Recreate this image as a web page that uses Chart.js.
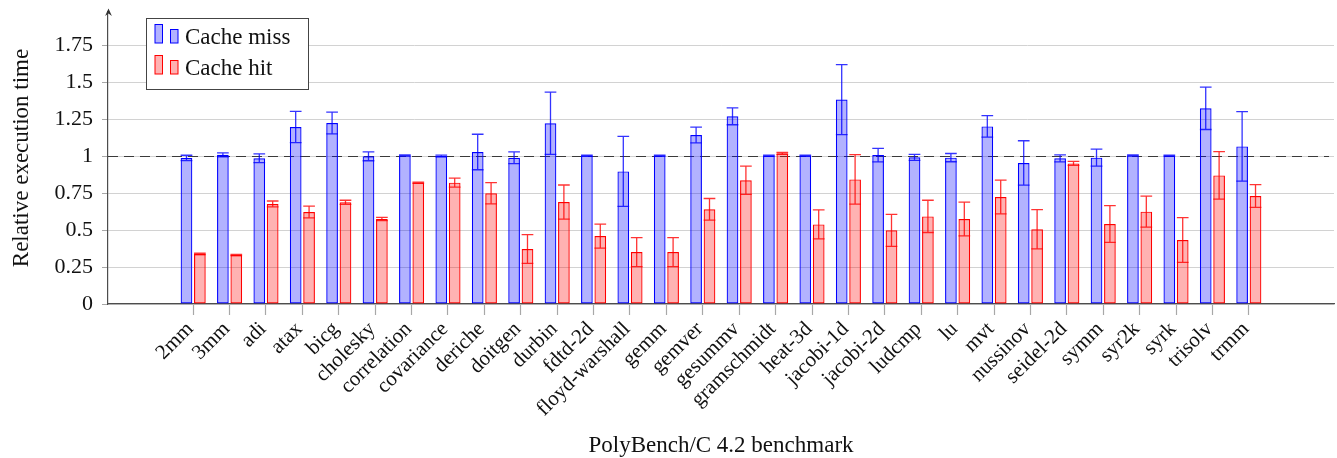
<!DOCTYPE html>
<html>
<head>
<meta charset="utf-8">
<script src="https://cdn.jsdelivr.net/npm/chart.js@4/dist/chart.umd.min.js"></script>
<style>
  html, body { margin: 0; padding: 0; background: #fff; }
  canvas { display: block; }
</style>
</head>
<body>
<canvas id="benchchart" width="1337" height="458"></canvas>
<script>
// PolyBench/C 4.2 benchmarks, relative execution time (mean and error)
var benchmarks = ['2mm', '3mm', 'adi', 'atax', 'bicg', 'cholesky', 'correlation', 'covariance',
  'deriche', 'doitgen', 'durbin', 'fdtd-2d', 'floyd-warshall', 'gemm', 'gemver', 'gesummv',
  'gramschmidt', 'heat-3d', 'jacobi-1d', 'jacobi-2d', 'ludcmp', 'lu', 'mvt', 'nussinov',
  'seidel-2d', 'symm', 'syr2k', 'syrk', 'trisolv', 'trmm'];

var missMean = [0.987, 1.008, 0.985, 1.196, 1.223, 0.998, 1.004, 1.0, 1.027, 0.988,
  1.221, 1.003, 0.896, 1.003, 1.142, 1.268, 1.002, 1.003, 1.381, 1.006,
  0.991, 0.989, 1.2, 0.953, 0.984, 0.989, 1.004, 1.003, 1.322, 1.065];
var missErr = [0.018, 0.013, 0.03, 0.105, 0.074, 0.03, 0.003, 0.006, 0.12, 0.04,
  0.21, 0.003, 0.237, 0.003, 0.053, 0.057, 0.003, 0.003, 0.236, 0.046,
  0.02, 0.028, 0.073, 0.15, 0.024, 0.057, 0.003, 0.003, 0.143, 0.235];

var hitMean = [0.338, 0.331, 0.676, 0.622, 0.687, 0.574, 0.82, 0.82, 0.748, 0.372,
  0.689, 0.459, 0.351, 0.351, 0.64, 0.836, 1.018, 0.538, 0.842, 0.498,
  0.592, 0.574, 0.723, 0.505, 0.95, 0.541, 0.624, 0.432, 0.869, 0.73];
var hitErr = [0.005, 0.004, 0.02, 0.04, 0.014, 0.011, 0.004, 0.03, 0.072, 0.097,
  0.115, 0.081, 0.098, 0.098, 0.073, 0.095, 0.007, 0.098, 0.167, 0.108,
  0.109, 0.114, 0.114, 0.133, 0.014, 0.124, 0.105, 0.151, 0.16, 0.077];

var yTicks = [0, 0.25, 0.5, 0.75, 1, 1.25, 1.5, 1.75];
var seriesNames = ['Cache miss', 'Cache hit'];

var FONT = '"Liberation Serif", "DejaVu Serif", serif';

var toPoints = function(arr) {
  return arr.map(function(v, i) { return {x: i, y: v}; });
};

//error bars, dashed baseline, axis arrow and legend
var extras = {
  id: 'extras',
  beforeDatasetsDraw: function(chart) {
    var ctx = chart.ctx, a = chart.chartArea;
    var y1 = chart.scales.y.getPixelForValue(1);
    ctx.save();
    ctx.strokeStyle = '#3a3a3a';
    ctx.lineWidth = 1.1;
    ctx.setLineDash([10, 6]);
    ctx.beginPath();
    ctx.moveTo(a.left, Math.round(y1) + 0.5);
    ctx.lineTo(a.right - 5, Math.round(y1) + 0.5);
    ctx.stroke();
    ctx.restore();
  },
  afterDatasetsDraw: function(chart) {
    var ctx = chart.ctx, ys = chart.scales.y;
    var errs = [missErr, hitErr];
    var means = [missMean, hitMean];
    var cols = ['rgba(0,0,255,0.8)', 'rgba(255,0,0,0.8)'];
    ctx.save();
    ctx.lineWidth = 1.3;
    for (var d = 0; d < 2; d++) {
      var meta = chart.getDatasetMeta(d);
      ctx.strokeStyle = cols[d];
      meta.data.forEach(function(bar, i) {
        var top = ys.getPixelForValue(means[d][i] + errs[d][i]);
        var bot = ys.getPixelForValue(means[d][i] - errs[d][i]);
        var hw = bar.width / 2;
        ctx.beginPath();
        ctx.moveTo(bar.x, top); ctx.lineTo(bar.x, bot);
        ctx.moveTo(bar.x - hw, top); ctx.lineTo(bar.x + hw, top);
        ctx.moveTo(bar.x - hw, bot); ctx.lineTo(bar.x + hw, bot);
        ctx.stroke();
      });
    }
    ctx.restore();
  },
  afterDraw: function(chart) {
    var ctx = chart.ctx, a = chart.chartArea;
    ctx.save();
    // arrow on top of the y axis
    var ax = Math.round(a.left) + 0.5;
    ctx.strokeStyle = '#4d4d4d';
    ctx.lineWidth = 1.2;
    ctx.beginPath();
    ctx.moveTo(ax, a.top);
    ctx.lineTo(ax, 11);
    ctx.stroke();
    ctx.fillStyle = '#333';
    ctx.beginPath();
    ctx.moveTo(ax, 8.5);
    ctx.lineTo(ax - 3.4, 16);
    ctx.lineTo(ax, 13.5);
    ctx.lineTo(ax + 3.4, 16);
    ctx.closePath();
    ctx.fill();

    // legend box
    ctx.fillStyle = '#fff';
    ctx.fillRect(146.5, 18.5, 162, 71);
    ctx.strokeStyle = '#444';
    ctx.lineWidth = 1;
    ctx.strokeRect(146.5, 18.5, 162, 71);
    var fills = ['rgba(0,0,255,0.3)', 'rgba(255,0,0,0.3)'];
    var lines = ['#0000ff', '#ff0000'];
    ctx.font = '23px ' + FONT;
    ctx.textBaseline = 'alphabetic';
    for (var k = 0; k < 2; k++) {
      var oy = k * 31;
      ctx.fillStyle = fills[k];
      ctx.strokeStyle = lines[k];
      ctx.fillRect(155, 24.5 + oy, 7.5, 18.5);
      ctx.strokeRect(155, 24.5 + oy, 7.5, 18.5);
      ctx.fillRect(170.5, 29.5 + oy, 7.5, 13.5);
      ctx.strokeRect(170.5, 29.5 + oy, 7.5, 13.5);
      ctx.fillStyle = '#111';
      ctx.fillText(seriesNames[k], 185, 44 + oy);
    }
    ctx.restore();
  }
};

var cty = document.getElementById('benchchart').getContext('2d');
var benchchart = new Chart(cty, {
  type: 'bar',
  data: {
    datasets: [
      {
        label: seriesNames[0],
        data: toPoints(missMean),
        backgroundColor: 'rgba(0,0,255,0.3)',
        borderColor: '#0000ff',
        borderWidth: 1.2,
        borderSkipped: false
      },
      {
        label: seriesNames[1],
        data: toPoints(hitMean),
        backgroundColor: 'rgba(255,0,0,0.3)',
        borderColor: '#ff0000',
        borderWidth: 1.2,
        borderSkipped: false
      }
    ]
  },
  options: {
    responsive: false,
    animation: false,
    devicePixelRatio: 1,
    categoryPercentage: 0.736,
    barPercentage: 0.873,
    layout: { padding: { top: 12, right: 3, left: 0, bottom: 0 } },
    plugins: {
      legend: { display: false },
      tooltip: { enabled: false }
    },
    scales: {
      x: {
        type: 'linear',
        min: -2.34,
        max: 31.34,
        offset: false,
        afterBuildTicks: function(s) {
          s.ticks = benchmarks.map(function(_, i) { return {value: i}; });
        },
        afterFit: function(s) {
          s.height = 154;
          s.paddingLeft = 0;
          s.paddingRight = 0;
        },
        ticks: {
          autoSkip: false,
          minRotation: 45,
          maxRotation: 45,
          padding: 2,
          labelOffset: -3,
          color: '#111',
          font: { family: FONT, size: 21 },
          callback: function(v) { return benchmarks[v]; }
        },
        grid: {
          offset: false,
          drawOnChartArea: false,
          drawTicks: true,
          tickLength: 11,
          tickColor: '#a8a8a8',
          tickWidth: 1.2
        },
        border: { color: '#4d4d4d', width: 1.2 },
        title: {
          display: true,
          text: 'PolyBench/C 4.2 benchmark',
          color: '#111',
          font: { family: FONT, size: 23, lineHeight: 1 },
          padding: { top: 0, bottom: 0.5 }
        }
      },
      y: {
        min: 0,
        max: 1.973,
        afterBuildTicks: function(s) {
          s.ticks = yTicks.map(function(v) { return {value: v}; });
        },
        afterFit: function(s) {
          s.width = 108;
          s.paddingTop = 0;
          s.paddingBottom = 0;
        },
        ticks: {
          padding: 9,
          color: '#111',
          font: { family: FONT, size: 22 },
          callback: function(v) { return String(v); }
        },
        grid: {
          color: '#d2d2d2',
          lineWidth: 1,
          tickLength: 6,
          tickColor: '#a8a8a8'
        },
        border: { color: '#4d4d4d', width: 1.2 },
        title: {
          display: true,
          text: 'Relative execution time',
          color: '#111',
          font: { family: FONT, size: 23, lineHeight: 1 },
          padding: { top: 10, bottom: 0 }
        }
      }
    }
  },
  plugins: [extras]
});
</script>
</body>
</html>
